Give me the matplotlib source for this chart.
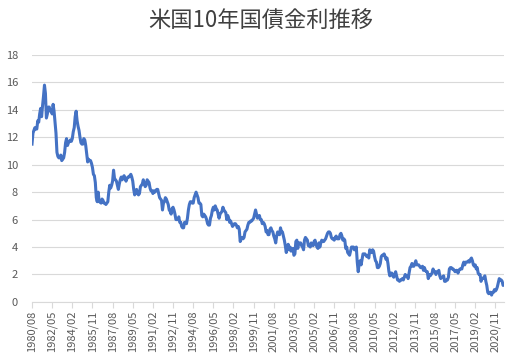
import pandas as pd
import numpy as np
import matplotlib.pyplot as plt

plt.rcParams['font.family'] = ['Noto Sans CJK JP', 'DejaVu Sans']

# 米国10年国債金利 (月次, %) 1980/08 - 2021/08
y1980 = [11.5, 12.3, 12.5, 12.7, 12.6]
y1981 = [12.6, 13.2, 13.1, 13.7, 14.1, 13.5, 14.3, 15.0, 15.8, 15.2, 13.4, 13.7]
y1982 = [14.2, 14.2, 13.9, 14.0, 13.7, 14.4, 13.9, 13.1, 12.3, 10.9, 10.6, 10.5]
y1983 = [10.5, 10.7, 10.3, 10.4, 10.5, 10.9, 11.6, 11.9, 11.4, 11.6, 11.7, 11.8]
y1984 = [11.7, 11.9, 12.4, 12.7, 13.5, 13.9, 13.2, 12.8, 12.5, 12.0, 11.6, 11.5]
y1985 = [11.5, 11.9, 11.8, 11.4, 10.8, 10.2, 10.4, 10.3, 10.3, 10.1, 9.8, 9.3]
y1986 = [9.2, 8.7, 7.6, 7.3, 8.0, 7.3, 7.3, 7.2, 7.5, 7.4, 7.2, 7.2]
y1987 = [7.1, 7.2, 7.3, 8.0, 8.5, 8.3, 8.5, 8.8, 9.6, 9.0, 8.9, 8.8]
y1988 = [8.5, 8.2, 8.6, 8.9, 9.1, 8.9, 9.1, 9.2, 9.0, 8.8, 9.0, 9.1]
y1989 = [9.1, 9.2, 9.3, 9.1, 8.8, 8.2, 7.8, 8.1, 8.2, 7.9, 7.8, 7.9]
y1990 = [8.4, 8.5, 8.6, 8.9, 8.6, 8.4, 8.5, 8.9, 8.8, 8.7, 8.3, 8.1]
y1991 = [8.1, 7.9, 8.1, 8.0, 8.1, 8.2, 8.2, 7.9, 7.6, 7.5, 7.4, 6.7]
y1992 = [7.2, 7.3, 7.6, 7.5, 7.3, 7.1, 6.7, 6.6, 6.4, 6.8, 6.9, 6.7]
y1993 = [6.4, 6.0, 6.0, 6.0, 6.2, 5.8, 5.8, 5.5, 5.4, 5.4, 5.8, 5.8]
y1994 = [5.7, 6.1, 6.7, 7.1, 7.3, 7.3, 7.2, 7.2, 7.6, 7.8, 8.0, 7.8]
y1995 = [7.6, 7.2, 7.2, 7.1, 6.3, 6.2, 6.4, 6.3, 6.2, 6.0, 5.7, 5.6]
y1996 = [5.6, 6.1, 6.3, 6.7, 6.9, 6.7, 7.0, 6.8, 6.7, 6.4, 6.1, 6.4]
y1997 = [6.5, 6.6, 6.9, 6.7, 6.6, 6.5, 6.0, 6.3, 6.1, 5.8, 5.9, 5.7]
y1998 = [5.5, 5.6, 5.7, 5.7, 5.6, 5.4, 5.5, 5.3, 4.4, 4.6, 4.7, 4.6]
y1999 = [4.7, 5.1, 5.2, 5.3, 5.6, 5.8, 5.8, 5.9, 5.9, 6.0, 6.1, 6.4]
y2000 = [6.7, 6.4, 6.1, 6.2, 6.3, 6.0, 6.0, 5.7, 5.8, 5.7, 5.5, 5.1]
y2001 = [5.2, 4.9, 4.9, 5.3, 5.4, 5.2, 5.1, 4.8, 4.6, 4.3, 4.8, 5.1]
y2002 = [5.0, 4.9, 5.4, 5.1, 5.1, 4.8, 4.5, 4.1, 3.6, 3.9, 4.2, 3.8]
y2003 = [4.0, 3.7, 3.8, 3.9, 3.4, 3.5, 4.4, 4.5, 3.9, 4.3, 4.3, 4.3]
y2004 = [4.1, 4.0, 3.8, 4.5, 4.7, 4.6, 4.5, 4.1, 4.1, 4.0, 4.3, 4.2]
y2005 = [4.1, 4.4, 4.5, 4.2, 4.0, 3.9, 4.3, 4.0, 4.3, 4.5, 4.4, 4.4]
y2006 = [4.5, 4.6, 4.8, 5.0, 5.1, 5.1, 5.0, 4.7, 4.6, 4.6, 4.5, 4.7]
y2007 = [4.8, 4.6, 4.6, 4.6, 4.9, 5.0, 4.8, 4.5, 4.6, 4.5, 3.9, 4.0]
y2008 = [3.6, 3.5, 3.4, 3.7, 4.0, 4.0, 4.0, 3.8, 3.8, 4.0, 2.9, 2.2]
y2009 = [2.8, 3.0, 2.7, 3.1, 3.5, 3.5, 3.5, 3.4, 3.3, 3.4, 3.2, 3.8]
y2010 = [3.6, 3.6, 3.8, 3.7, 3.3, 3.0, 2.9, 2.5, 2.5, 2.6, 2.8, 3.3]
y2011 = [3.4, 3.4, 3.5, 3.3, 3.1, 3.2, 2.8, 2.2, 1.9, 2.1, 2.1, 1.9]
y2012 = [1.8, 2.0, 2.2, 1.9, 1.6, 1.6, 1.5, 1.6, 1.6, 1.7, 1.6, 1.8]
y2013 = [2.0, 1.9, 1.9, 1.7, 2.1, 2.5, 2.6, 2.8, 2.6, 2.6, 2.8, 3.0]
y2014 = [2.7, 2.7, 2.7, 2.6, 2.5, 2.5, 2.6, 2.3, 2.5, 2.3, 2.2, 2.2]
y2015 = [1.7, 2.0, 1.9, 2.0, 2.1, 2.4, 2.2, 2.2, 2.0, 2.2, 2.2, 2.3]
y2016 = [1.9, 1.7, 1.8, 1.8, 1.9, 1.5, 1.5, 1.6, 1.6, 1.8, 2.4, 2.5]
y2017 = [2.5, 2.4, 2.4, 2.3, 2.2, 2.3, 2.3, 2.1, 2.3, 2.4, 2.4, 2.4]
y2018 = [2.7, 2.9, 2.7, 2.9, 2.9, 2.9, 3.0, 2.9, 3.1, 3.2, 3.0, 2.7]
y2019 = [2.6, 2.7, 2.4, 2.5, 2.1, 2.0, 2.0, 1.5, 1.7, 1.7, 1.8, 1.9]
y2020 = [1.5, 1.2, 0.7, 0.6, 0.7, 0.7, 0.5, 0.7, 0.7, 0.9, 0.8, 0.9]
y2021 = [1.1, 1.4, 1.7, 1.6, 1.6, 1.5, 1.2, 1.3]

yields = (y1980 + y1981 + y1982 + y1983 + y1984 + y1985 + y1986 + y1987 + y1988 + y1989
          + y1990 + y1991 + y1992 + y1993 + y1994 + y1995 + y1996 + y1997 + y1998 + y1999
          + y2000 + y2001 + y2002 + y2003 + y2004 + y2005 + y2006 + y2007 + y2008 + y2009
          + y2010 + y2011 + y2012 + y2013 + y2014 + y2015 + y2016 + y2017 + y2018 + y2019
          + y2020 + y2021)

months = pd.period_range('1980-08', periods=len(yields), freq='M')
labels = [m.strftime('%Y/%m') for m in months]
tick_step = 21

fig = plt.figure(figsize=(5.12, 3.59), dpi=100)
ax = fig.add_axes([0.0625, 0.159, 0.922, 0.688])

x = np.arange(len(yields))
ax.plot(x, yields, color='#4472C4', linewidth=2.2, solid_joinstyle='round')

ax.set_xlim(0, len(yields) - 1)
ax.set_ylim(0, 18)
ax.set_yticks(range(0, 19, 2))
ax.yaxis.grid(True, color='#d9d9d9', linewidth=0.8)
ax.set_axisbelow(True)

ticks = x[::tick_step]
ax.set_xticks(ticks)
ax.set_xticklabels([labels[i] for i in ticks], rotation=90)

for s in ['top', 'right', 'left']:
    ax.spines[s].set_visible(False)
ax.spines['bottom'].set_color('#d9d9d9')
ax.tick_params(axis='y', length=0, labelsize=8, labelcolor='#595959', pad=10)
ax.tick_params(axis='x', length=4, color='#d9d9d9', labelsize=8, labelcolor='#595959', pad=2)

fig.text(0.51, 0.94, '米国10年国債金利推移', ha='center', va='center',
         fontsize=16, color='#404040')

fig.savefig('out.png', dpi=100)
